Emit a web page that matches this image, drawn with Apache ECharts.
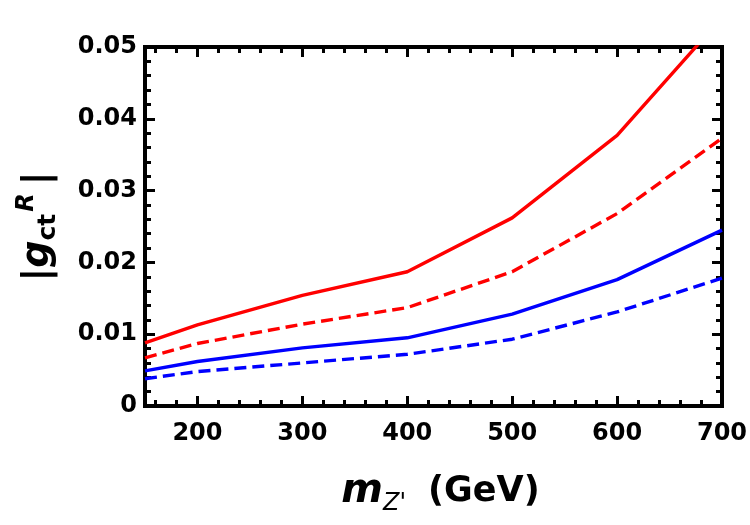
<!DOCTYPE html>
<html>
<head>
<meta charset="utf-8">
<script src="https://cdn.jsdelivr.net/npm/echarts@6/dist/echarts.min.js"></script>
<style>
  html, body { margin: 0; padding: 0; background: #fff; }
  #chart { width: 750px; height: 525px; }
</style>
</head>
<body>
<div id="chart"></div>
<script>
const massValues = [150, 200, 300, 400, 500, 600, 700]
const redSolid = [0.0088, 0.0113, 0.0154, 0.0187, 0.0262, 0.0377, 0.0541]
const redDashed = [0.0067, 0.0087, 0.0114, 0.0137, 0.0187, 0.0268, 0.0373]
const blueSolid = [0.0049, 0.0062, 0.0081, 0.0095, 0.0128, 0.0176, 0.0245]
const blueDashed = [0.0038, 0.0048, 0.0060, 0.0072, 0.0093, 0.0131, 0.0178]

const X_MIN = 150
const X_MAX = 700
const Y_MIN = 0
const Y_MAX = 0.05
const FONT = 'DejaVu Sans'

const toPoints = (ys) => massValues.map((x, i) => [x, ys[i]])

// frame pieces, fresh objects for every axis
const frameLine = () => ({ show: true, onZero: false, lineStyle: { color: '#000', width: 4, cap: 'square' } })
const frameTick = () => ({ show: true, inside: true, length: 10, lineStyle: { color: '#000', width: 3 } })
const frameMinor = () => ({ show: true, splitNumber: 5, length: 6, lineStyle: { color: '#000', width: 3 } })

const makeLine = (name, ys, color, dashed) => ({
  name: name,
  type: 'line',
  symbol: 'none',
  smooth: false,
  clip: true,
  lineStyle: {
    color: color,
    width: 3.4,
    type: dashed ? [12, 6] : 'solid'
  },
  data: toPoints(ys)
})

const chart = echarts.init(document.getElementById('chart'))

chart.setOption({
  animation: false,
  backgroundColor: '#fff',
  grid: {
    left: 145,
    right: 28,
    top: 47,
    bottom: 119,
    outerBoundsMode: 'none'
  },
  xAxis: [{
    type: 'value',
    position: 'bottom',
    min: X_MIN,
    max: X_MAX,
    splitNumber: 5,
    axisLine: frameLine(),
    axisTick: frameTick(),
    minorTick: frameMinor(),
    splitLine: { show: false },
    axisLabel: {
      showMinLabel: false,
      margin: 16,
      color: '#000',
      fontFamily: FONT,
      fontWeight: 'bold',
      fontSize: 24
    },
    name: '{m|m}{z|Z\'}{n|(GeV)}',
    nameLocation: 'middle',
    nameGap: 62,
    nameTextStyle: {
      rich: {
        m: { fontFamily: FONT, fontWeight: 'bold', fontStyle: 'italic', fontSize: 40, lineHeight: 48, padding: [0, 0, 0, 14], color: '#000' },
        z: { fontFamily: FONT, fontStyle: 'italic', fontSize: 24, lineHeight: 24, verticalAlign: 'bottom', padding: [0, 22, 0, 0], color: '#000' },
        n: { fontFamily: FONT, fontWeight: 'bold', fontSize: 35, lineHeight: 48, color: '#000' }
      }
    }
  }, {
    type: 'value',
    position: 'top',
    min: X_MIN,
    max: X_MAX,
    splitNumber: 5,
    axisLine: frameLine(),
    axisTick: frameTick(),
    minorTick: frameMinor(),
    splitLine: { show: false },
    axisLabel: { show: false }
  }],
  yAxis: [{
    type: 'value',
    position: 'left',
    min: Y_MIN,
    max: Y_MAX,
    interval: 0.01,
    axisLine: frameLine(),
    axisTick: frameTick(),
    minorTick: frameMinor(),
    splitLine: { show: false },
    axisLabel: {
      margin: 8,
      color: '#000',
      fontFamily: FONT,
      fontWeight: 'bold',
      fontSize: 24,
      formatter: (v) => (v === 0 ? '0' : v.toFixed(2))
    },
    name: '{b||}{g|g}{sub|ct}{sup|R}{b||}',
    nameLocation: 'middle',
    nameRotate: 90,
    nameGap: 84,
    nameTextStyle: {
      rich: {
        b: { fontFamily: FONT, fontWeight: 'bold', fontSize: 38, lineHeight: 46, color: '#000' },
        g: { fontFamily: FONT, fontWeight: 'bold', fontStyle: 'italic', fontSize: 38, lineHeight: 46, color: '#000' },
        sub: { fontFamily: FONT, fontWeight: 'bold', fontSize: 25, lineHeight: 24, verticalAlign: 'bottom', color: '#000' },
        sup: { fontFamily: FONT, fontWeight: 'bold', fontStyle: 'italic', fontSize: 24, lineHeight: 24, verticalAlign: 'top', padding: [0, 8, 0, 2], color: '#000' }
      }
    }
  }, {
    type: 'value',
    position: 'right',
    min: Y_MIN,
    max: Y_MAX,
    interval: 0.01,
    axisLine: frameLine(),
    axisTick: frameTick(),
    minorTick: frameMinor(),
    splitLine: { show: false },
    axisLabel: { show: false }
  }],
  series: [
    makeLine('red solid', redSolid, '#ff0000', false),
    makeLine('red dashed', redDashed, '#ff0000', true),
    makeLine('blue solid', blueSolid, '#0000ff', false),
    makeLine('blue dashed', blueDashed, '#0000ff', true)
  ]
})
</script>
</body>
</html>
